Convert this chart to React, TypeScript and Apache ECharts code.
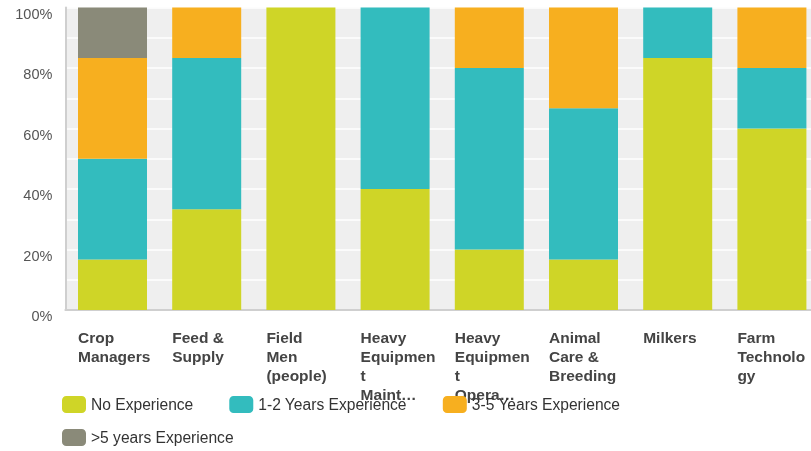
import React, { useEffect, useRef } from "react";
import * as echarts from "echarts";

const categories = [
  "Crop\nManagers",
  "Feed &\nSupply",
  "Field\nMen\n(people)",
  "Heavy\nEquipmen\nt\nMaint…",
  "Heavy\nEquipmen\nt\nOpera…",
  "Animal\nCare &\nBreeding",
  "Milkers",
  "Farm\nTechnolo\ngy",
];

const seriesNames = [
  "No Experience",
  "1-2 Years Experience",
  "3-5 Years Experience",
  ">5 years Experience",
];

const noExperience = [16.67, 33.33, 100, 40, 20, 16.67, 83.33, 60];
const oneToTwo = [33.33, 50, 0, 60, 60, 50, 16.67, 20];
const threeToFive = [33.33, 16.67, 0, 0, 20, 33.33, 0, 20];
const overFive = [16.67, 0, 0, 0, 0, 0, 0, 0];

const colors = ["#cfd527", "#33bcbe", "#f7af1f", "#8a8a79"];

const FONT = "'Liberation Sans', Arial, Helvetica, sans-serif";

export default function App() {
  const ref = useRef<HTMLDivElement>(null);
  useEffect(() => {
    if (!ref.current) return;
    const chart = echarts.init(ref.current, null, { renderer: "svg" });
    const data = [noExperience, oneToTwo, threeToFive, overFive];
    const legendText = { fontSize: 15.6, color: "#333", fontFamily: FONT };
    chart.setOption({
      animation: false,
      textStyle: { fontFamily: FONT },
      grid: {
        left: 65.4,
        right: 0,
        top: 7.5,
        bottom: 141,
        show: true,
        backgroundColor: "#efefef",
        borderWidth: 0,
      },
      legend: [
        {
          data: seriesNames.slice(0, 3),
          left: 62,
          top: 396,
          padding: 0,
          itemWidth: 24,
          itemHeight: 17,
          itemGap: 36,
          icon: "roundRect",
          textStyle: legendText,
        },
        {
          data: seriesNames.slice(3),
          left: 62,
          top: 429,
          padding: 0,
          itemWidth: 24,
          itemHeight: 17,
          icon: "roundRect",
          textStyle: legendText,
        },
      ],
      xAxis: {
        type: "category",
        data: categories,
        axisTick: { show: false },
        axisLine: { show: true, lineStyle: { color: "#cfcfcf", width: 2 } },
        axisLabel: {
          interval: 0,
          align: "left",
          verticalAlign: "top",
          padding: [0, 0, 0, -34.5],
          margin: 18,
          lineHeight: 19,
          fontSize: 15.5,
          fontWeight: "bold",
          color: "#444",
          fontFamily: FONT,
        },
      },
      yAxis: {
        type: "value",
        min: 0,
        max: 100,
        interval: 20,
        axisLine: { show: true, lineStyle: { color: "#cfcfcf", width: 2 } },
        axisTick: { show: false },
        splitLine: { show: true, lineStyle: { color: "#ffffff", width: 1.5 } },
        minorTick: { show: false, splitNumber: 2 },
        minorSplitLine: { show: true, lineStyle: { color: "#ffffff", width: 1.5 } },
        axisLabel: {
          formatter: "{value}%",
          fontSize: 14.5,
          color: "#555",
          margin: 13,
          verticalAlign: "top",
          lineHeight: 12,
          fontFamily: FONT,
        },
      },
      series: data.map((d, i) => ({
        name: seriesNames[i],
        type: "bar",
        stack: "total",
        barWidth: 69,
        data: d,
        itemStyle: { color: colors[i] },
      })),
    });
    return () => chart.dispose();
  }, []);
  return (
    <div
      style={{
        position: "fixed",
        left: 0,
        top: 0,
        width: 811,
        height: 451,
        overflow: "hidden",
      }}
    >
      <div ref={ref} style={{ width: 818.5, height: 451 }} />
    </div>
  );
}
